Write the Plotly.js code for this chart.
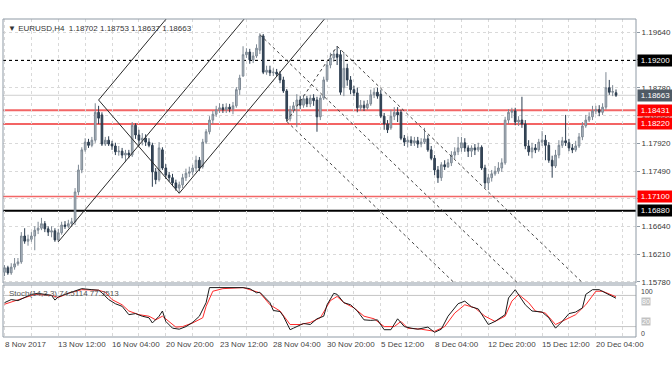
<!DOCTYPE html>
<html><head><meta charset="utf-8">
<script src="https://cdn.plot.ly/plotly-3.0.1.min.js"></script>
<style>html,body{margin:0;padding:0;background:#fff;}#chart{width:672px;height:372px;}</style>
</head><body><div id="chart"></div>
<script>
// ---- data ----
const openP = [
1.1593,1.1600,1.1592,1.1601,1.1606,1.1609,1.1649,1.1641,1.1644,1.1649,
1.1658,1.1661,1.1668,1.1660,1.1655,1.1657,1.1643,1.1654,1.1666,1.1664,
1.1668,1.1671,1.1717,1.1751,1.1782,1.1794,1.1789,1.1797,1.1840,1.1836,
1.1791,1.1797,1.1791,1.1788,1.1779,1.1780,1.1774,1.1777,1.1774,1.1820,
1.1805,1.1797,1.1800,1.1794,1.1789,1.1748,1.1736,1.1782,1.1754,1.1743,
1.1739,1.1731,1.1723,1.1728,1.1739,1.1746,1.1748,1.1754,1.1766,1.1756,
1.1794,1.1810,1.1828,1.1837,1.1844,1.1847,1.1844,1.1848,1.1845,1.1850,
1.1875,1.1896,1.1929,1.1933,1.1921,1.1927,1.1936,1.1958,1.1902,1.1905,
1.1901,1.1902,1.1899,1.1890,1.1873,1.1830,1.1844,1.1850,1.1859,1.1851,
1.1861,1.1853,1.1862,1.1859,1.1833,1.1862,1.1890,1.1913,1.1924,1.1930,
1.1929,1.1878,1.1908,1.1890,1.1875,1.1870,1.1847,1.1851,1.1847,1.1853,
1.1867,1.1871,1.1868,1.1834,1.1822,1.1816,1.1834,1.1840,1.1840,1.1800,
1.1794,1.1797,1.1793,1.1796,1.1791,1.1794,1.1799,1.1782,1.1769,1.1751,
1.1739,1.1759,1.1756,1.1762,1.1774,1.1779,1.1785,1.1793,1.1785,1.1780,
1.1785,1.1782,1.1786,1.1754,1.1731,1.1739,1.1745,1.1749,1.1754,1.1762,
1.1828,1.1840,1.1842,1.1825,1.1828,1.1822,1.1788,1.1779,1.1785,1.1782,
1.1794,1.1797,1.1789,1.1766,1.1757,1.1774,1.1789,1.1796,1.1793,1.1785,
1.1782,1.1788,1.1802,1.1819,1.1828,1.1833,1.1842,1.1844,1.1840,1.1848,
1.1878,1.1871,1.18702];
const highP = [
1.1604,1.1603,1.1607,1.1615,1.1615,1.1655,1.1661,1.1651,1.1655,1.1664,
1.1671,1.1677,1.1672,1.1664,1.1664,1.1661,1.1660,1.1671,1.1672,1.1674,
1.1677,1.1723,1.1759,1.1786,1.1800,1.1799,1.1802,1.1854,1.1850,1.1840,
1.1802,1.1803,1.1796,1.1793,1.1788,1.1785,1.1782,1.1782,1.1825,1.1823,
1.1813,1.1808,1.1806,1.1800,1.1793,1.1754,1.1794,1.1786,1.1760,1.1748,
1.1745,1.1736,1.1733,1.1745,1.1753,1.1756,1.1759,1.1773,1.1771,1.1799,
1.1814,1.1834,1.1842,1.1850,1.1854,1.1853,1.1854,1.1853,1.1856,1.1879,
1.1898,1.1942,1.1939,1.1938,1.1933,1.1945,1.1962,1.1961,1.1912,1.1912,
1.1908,1.1907,1.1904,1.1895,1.1876,1.1850,1.1856,1.1868,1.1865,1.1867,
1.1865,1.1867,1.1868,1.1864,1.1867,1.1895,1.1918,1.1932,1.1936,1.1942,
1.1936,1.1933,1.1915,1.1896,1.1881,1.1878,1.1859,1.1858,1.1859,1.1875,
1.1878,1.1878,1.1875,1.1839,1.1828,1.1844,1.1848,1.1848,1.1844,1.1805,
1.1803,1.1803,1.1802,1.1802,1.1800,1.1816,1.1805,1.1788,1.1774,1.1757,
1.1763,1.1766,1.1768,1.1780,1.1786,1.1802,1.1802,1.1800,1.1789,1.1789,
1.1791,1.1793,1.1789,1.1759,1.1745,1.1751,1.1757,1.1763,1.1769,1.1833,
1.1845,1.1847,1.1847,1.1834,1.1864,1.1828,1.1797,1.1793,1.1791,1.1799,
1.1811,1.1805,1.1794,1.1773,1.1782,1.1797,1.1802,1.1836,1.1799,1.1791,
1.1796,1.1808,1.1825,1.1836,1.1840,1.1850,1.1850,1.1851,1.1854,1.1902,
1.1890,1.1882,1.18753];
const lowP = [
1.1587,1.1589,1.1589,1.1597,1.1603,1.1606,1.1637,1.1634,1.1640,1.1627,
1.1652,1.1658,1.1655,1.1649,1.1647,1.1640,1.1640,1.1651,1.1660,1.1661,
1.1663,1.1666,1.1712,1.1746,1.1779,1.1785,1.1786,1.1793,1.1822,1.1788,
1.1788,1.1788,1.1782,1.1774,1.1773,1.1769,1.1763,1.1769,1.1771,1.1799,
1.1788,1.1789,1.1788,1.1786,1.1725,1.1729,1.1733,1.1751,1.1737,1.1733,
1.1726,1.1719,1.1715,1.1723,1.1734,1.1740,1.1743,1.1748,1.1749,1.1753,
1.1791,1.1806,1.1822,1.1833,1.1839,1.1839,1.1839,1.1840,1.1837,1.1847,
1.1867,1.1895,1.1924,1.1915,1.1916,1.1924,1.1930,1.1899,1.1898,1.1896,
1.1896,1.1895,1.1885,1.1870,1.1826,1.1826,1.1839,1.1817,1.1845,1.1847,
1.1848,1.1848,1.1850,1.1810,1.1828,1.1859,1.1887,1.1908,1.1918,1.1913,
1.1867,1.1865,1.1881,1.1868,1.1865,1.1840,1.1842,1.1842,1.1844,1.1850,
1.1862,1.1861,1.1831,1.1813,1.1808,1.1813,1.1828,1.1825,1.1797,1.1788,
1.1786,1.1788,1.1788,1.1785,1.1786,1.1791,1.1779,1.1766,1.1743,1.1731,
1.1734,1.1751,1.1754,1.1757,1.1768,1.1774,1.1779,1.1779,1.1771,1.1771,
1.1774,1.1779,1.1751,1.1723,1.1720,1.1733,1.1742,1.1745,1.1748,1.1759,
1.1822,1.1831,1.1820,1.1819,1.1816,1.1783,1.1773,1.1769,1.1777,1.1779,
1.1788,1.1766,1.1762,1.1739,1.1754,1.1769,1.1785,1.1788,1.1780,1.1777,
1.1779,1.1785,1.1797,1.1816,1.1825,1.1828,1.1837,1.1834,1.1836,1.1844,
1.1867,1.1865,1.18637];
const closeP = [
1.1600,1.1592,1.1601,1.1606,1.1609,1.1649,1.1641,1.1644,1.1649,1.1658,
1.1661,1.1668,1.1660,1.1655,1.1657,1.1643,1.1654,1.1666,1.1664,1.1668,
1.1671,1.1717,1.1751,1.1782,1.1794,1.1789,1.1797,1.1840,1.1831,1.1791,
1.1797,1.1791,1.1788,1.1779,1.1780,1.1774,1.1777,1.1774,1.1820,1.1805,
1.1797,1.1800,1.1794,1.1789,1.1748,1.1736,1.1785,1.1754,1.1743,1.1739,
1.1731,1.1723,1.1728,1.1739,1.1746,1.1748,1.1754,1.1766,1.1754,1.1794,
1.1810,1.1828,1.1837,1.1844,1.1847,1.1844,1.1848,1.1845,1.1850,1.1875,
1.1893,1.1929,1.1933,1.1921,1.1927,1.1939,1.1958,1.1902,1.1905,1.1901,
1.1902,1.1899,1.1890,1.1873,1.1830,1.1844,1.1850,1.1859,1.1851,1.1861,
1.1853,1.1862,1.1858,1.1833,1.1862,1.1890,1.1913,1.1924,1.1930,1.1925,
1.1871,1.1908,1.1890,1.1875,1.1870,1.1847,1.1851,1.1847,1.1853,1.1867,
1.1871,1.1865,1.1834,1.1822,1.1813,1.1834,1.1840,1.1836,1.1800,1.1794,
1.1797,1.1793,1.1796,1.1791,1.1794,1.1799,1.1782,1.1769,1.1751,1.1739,
1.1759,1.1756,1.1762,1.1774,1.1779,1.1785,1.1793,1.1785,1.1780,1.1785,
1.1782,1.1786,1.1754,1.1731,1.1739,1.1745,1.1749,1.1754,1.1762,1.1828,
1.1840,1.1842,1.1825,1.1828,1.1822,1.1788,1.1779,1.1785,1.1782,1.1794,
1.1797,1.1789,1.1766,1.1757,1.1774,1.1789,1.1796,1.1793,1.1785,1.1782,
1.1788,1.1802,1.1819,1.1828,1.1833,1.1842,1.1844,1.1840,1.1848,1.1878,
1.1871,1.1872,1.18663];

const dateTickBars = [0,16,32,48,64,80,96,112,128,144,160,176];
const dateTickText = ['8 Nov 2017','13 Nov 12:00','16 Nov 04:00','20 Nov 20:00','23 Nov 12:00','28 Nov 04:00',
  '30 Nov 20:00','5 Dec 12:00','8 Dec 04:00','12 Dec 20:00','15 Dec 12:00','20 Dec 04:00'];
const priceTicks = [1.15780,1.16210,1.16640,1.17070,1.17490,1.17920,1.18350,1.18780,1.19210,1.19640];

const stochKBars = [0,2,4,6,8,10,12,14,15,16,18,21,23,26,28,29,31,33,35,37,39,41,43,44,46,47,48,50,52,54,
  56,58,60,61,64,67,71,73,75,76,79,80,82,83,85,86,89,91,93,95,96,98,99,101,103,105,107,109,111,113,
  115,117,119,121,123,126,128,130,132,135,137,139,141,144,146,149,150,152,153,155,157,160,162,164,166,168,170,172,173,175,
  177,179,180,182];
const stochK = [66,72,70,76,82,84,82,80,71,77,82,88,93,91,90,85,72,64,59,43,45,40,37,27,40,50,30,17,15,20,
  28,40,66,95,95,95,95,93,85,86,66,51,49,40,14,17,26,24,35,40,62,84,82,66,62,50,33,32,33,14,
  14,35,20,17,15,19,9,15,40,64,69,58,54,24,30,43,75,91,82,62,50,48,37,17,30,45,48,56,82,91,
  91,84,82,74.5114];
const stochDBars = [0,4,9,14,16,19,23,28,30,32,35,37,40,43,45,47,49,51,53,56,59,60,62,65,71,73,76,79,82,85,
  88,91,94,97,99,101,104,107,110,113,116,118,120,124,128,131,134,137,140,143,146,149,151,153,156,158,161,164,167,170,
  173,176,178,180,182];
const stochD = [63,71,82,80,76,84,91,90,86,72,62,50,43,40,33,40,30,19,20,27,37,59,88,93,95,91,85,62,50,24,
  24,28,37,70,78,66,56,40,35,20,20,30,17,15,11,20,46,62,56,40,30,40,69,82,66,50,46,24,33,43,
  62,88,88,82,77.3513];
const stochLevels = [80,20];

// horizontal price levels drawn on the chart
const levelPrices = [1.19200, 1.18431, 1.18220, 1.17100, 1.16880];
// trend lines: [bar0, price0, bar1, price1]
const solidTrendLines = [[16,1.1640,80,1.2038],[28,1.1859,60,1.2058],[28,1.1859,52,1.1715],[52,1.1715,110,1.2076]];
const dashedTrendLines = [[76,1.1960,170,1.1490],[84,1.1826,150,1.1496],[99,1.1942,190,1.1487],[84,1.1826,99,1.1942]];

// ---- styles / layout ----
const FONT = 'Liberation Sans, Arial, sans-serif';
const frameColor = '#8f9aa5';
const gridColor = '#d9d9d9';
const barIdx = openP.map((_, i) => i);
const nBars = openP.length;
const lastPrice = closeP[nBars - 1];
const xRange = [-0.45, 187.95];
const mainDomain = [0.1698, 1];
const stochDomain = [0, 0.1635];

const levelStyles = [
  {color:'#000000', width:1, dash:'3px,3px', box:'#000000'},
  {color:'#f26666', width:2, dash:'solid', box:'#ff0000'},
  {color:'#ef3030', width:1.5, dash:'solid', box:'#ff0000'},
  {color:'#f26666', width:1.5, dash:'solid', box:'#ff0000'},
  {color:'#000000', width:2, dash:'solid', box:'#000000'}
];

const traces = [
  {type:'candlestick', x:barIdx, open:openP, high:highP, low:lowP, close:closeP,
   xaxis:'x', yaxis:'y', whiskerwidth:0, hoverinfo:'skip',
   increasing:{line:{color:'#7d8893', width:1}, fillcolor:'#b3bdc7'},
   decreasing:{line:{color:'#2c3d4f', width:1}, fillcolor:'#3a4a5b'}},
  {type:'scatter', mode:'lines', x:stochDBars, y:stochD, xaxis:'x2', yaxis:'y2',
   line:{color:'#ff2a2a', width:1}, hoverinfo:'skip'},
  {type:'scatter', mode:'lines', x:stochKBars, y:stochK, xaxis:'x2', yaxis:'y2',
   line:{color:'#1a1a1a', width:1}, hoverinfo:'skip'}
];

const shapes = [];
// current bid line
shapes.push({type:'line', xref:'x', x0:xRange[0], x1:xRange[1], yref:'y', y0:lastPrice, y1:lastPrice,
  line:{color:'#cfcfcf', width:1}, layer:'below'});
levelPrices.forEach((p, k) => {
  const s = levelStyles[k];
  shapes.push({type:'line', xref:'x', x0:xRange[0], x1:xRange[1], yref:'y', y0:p, y1:p,
    line:{color:s.color, width:s.width, dash:s.dash}, layer:'below'});
});
solidTrendLines.forEach(t => shapes.push({type:'line', xref:'x', yref:'y', x0:t[0], y0:t[1], x1:t[2], y1:t[3],
  line:{color:'#2a2a2a', width:1}, layer:'above'}));
dashedTrendLines.forEach(t => shapes.push({type:'line', xref:'x', yref:'y', x0:t[0], y0:t[1], x1:t[2], y1:t[3],
  line:{color:'#444444', width:1, dash:'3px,3px'}, layer:'above'}));
stochLevels.forEach(v => shapes.push({type:'line', xref:'x2', x0:xRange[0], x1:xRange[1], yref:'y2', y0:v, y1:v,
  line:{color:'#c4c4c4', width:1}, layer:'below'}));
// panel frames
shapes.push({type:'rect', xref:'paper', yref:'paper', x0:0, x1:1, y0:mainDomain[0], y1:mainDomain[1],
  line:{color:frameColor, width:1}, fillcolor:'rgba(0,0,0,0)', layer:'above'});
shapes.push({type:'rect', xref:'paper', yref:'paper', x0:0, x1:1, y0:stochDomain[0], y1:stochDomain[1],
  line:{color:frameColor, width:1}, fillcolor:'rgba(0,0,0,0)', layer:'above'});

const annotations = [];
// header
annotations.push({xref:'paper', yref:'paper', x:0, y:1, xanchor:'left', yanchor:'top', xshift:3, yshift:-3,
  showarrow:false, align:'left', font:{family:FONT, size:8, color:'#333'},
  text:'\u25BC EURUSD,H4  ' + [openP[nBars-1], highP[nBars-1], lowP[nBars-1], closeP[nBars-1]].map(v => v.toFixed(5)).join(' ')});
// stochastic header
annotations.push({xref:'paper', yref:'paper', x:0, y:stochDomain[1], xanchor:'left', yanchor:'top', xshift:4, yshift:-2,
  showarrow:false, font:{family:FONT, size:8, color:'#555'},
  text:'Stoch(14,3,3) ' + stochK[stochK.length-1].toFixed(4) + ' ' + stochD[stochD.length-1].toFixed(4)});
// price boxes on the right axis
function priceBox(p, bg) {
  annotations.push({xref:'paper', yref:'y', x:1, y:p, xanchor:'left', yanchor:'middle', xshift:1,
    showarrow:false, text:p.toFixed(5), font:{family:FONT, size:8, color:'#ffffff'},
    bgcolor:bg, borderpad:1, width:33, align:'center'});
}
levelPrices.forEach((p, k) => priceBox(p, levelStyles[k].box));
priceBox(lastPrice, '#4f5a65');
// date labels (left-aligned at their tick)
dateTickBars.forEach((b, k) => annotations.push({xref:'x2', yref:'paper', x:b, y:0, xanchor:'left', yanchor:'top',
  yshift:-1, xshift:-2, showarrow:false, text:dateTickText[k], font:{family:FONT, size:8, color:'#444'}}));
// stochastic scale labels
annotations.push({xref:'paper', yref:'y2', x:1, y:100, xanchor:'left', yanchor:'top', xshift:3, yshift:-1,
  showarrow:false, text:'100', font:{family:FONT, size:7, color:'#444'}});
annotations.push({xref:'paper', yref:'y2', x:1, y:0, xanchor:'left', yanchor:'bottom', xshift:3, yshift:-2,
  showarrow:false, text:'0', font:{family:FONT, size:7, color:'#444'}});
annotations.push({xref:'paper', yref:'y2', x:1, y:stochLevels[0], xanchor:'left', yanchor:'top', xshift:5, yshift:-2,
  showarrow:false, text:String(stochLevels[0]), font:{family:FONT, size:7, color:'#ffffff'}, bgcolor:'#c2c2c2', borderpad:0});
annotations.push({xref:'paper', yref:'y2', x:1, y:stochLevels[1], xanchor:'left', yanchor:'bottom', xshift:5, yshift:1,
  showarrow:false, text:String(stochLevels[1]), font:{family:FONT, size:7, color:'#ffffff'}, bgcolor:'#c2c2c2', borderpad:0});

const layout = {
  width:672, height:372,
  margin:{l:3, r:36, t:19, b:35, pad:0},
  paper_bgcolor:'#ffffff', plot_bgcolor:'#ffffff',
  showlegend:false,
  font:{family:FONT, size:8, color:'#444'},
  xaxis:{domain:[0,1], anchor:'y', range:xRange, rangeslider:{visible:false},
    tickmode:'linear', tick0:0, dtick:8, showticklabels:false, ticks:'',
    showgrid:true, gridcolor:gridColor, griddash:'dot', gridwidth:1, zeroline:false, showline:false, fixedrange:true},
  yaxis:{domain:mainDomain, anchor:'x', side:'right', range:[1.15764, 1.19841],
    tickmode:'array', tickvals:priceTicks, ticktext:priceTicks.map(v => v.toFixed(5)),
    ticks:'outside', ticklen:3, tickcolor:frameColor, tickfont:{family:FONT, size:8, color:'#3a3a3a'},
    showgrid:true, gridcolor:gridColor, griddash:'dot', zeroline:false, showline:false, fixedrange:true},
  xaxis2:{domain:[0,1], anchor:'y2', range:xRange, matches:'x',
    tickmode:'linear', tick0:0, dtick:8, showticklabels:false, ticks:'',
    showgrid:true, gridcolor:gridColor, griddash:'dot', zeroline:false, showline:false, fixedrange:true},
  yaxis2:{domain:stochDomain, anchor:'x2', side:'right', range:[0,100], showticklabels:false, ticks:'',
    showgrid:false, zeroline:false, showline:false, fixedrange:true},
  shapes:shapes,
  annotations:annotations
};

Plotly.newPlot('chart', traces, layout, {displayModeBar:false, staticPlot:true});
</script>
</body></html>
